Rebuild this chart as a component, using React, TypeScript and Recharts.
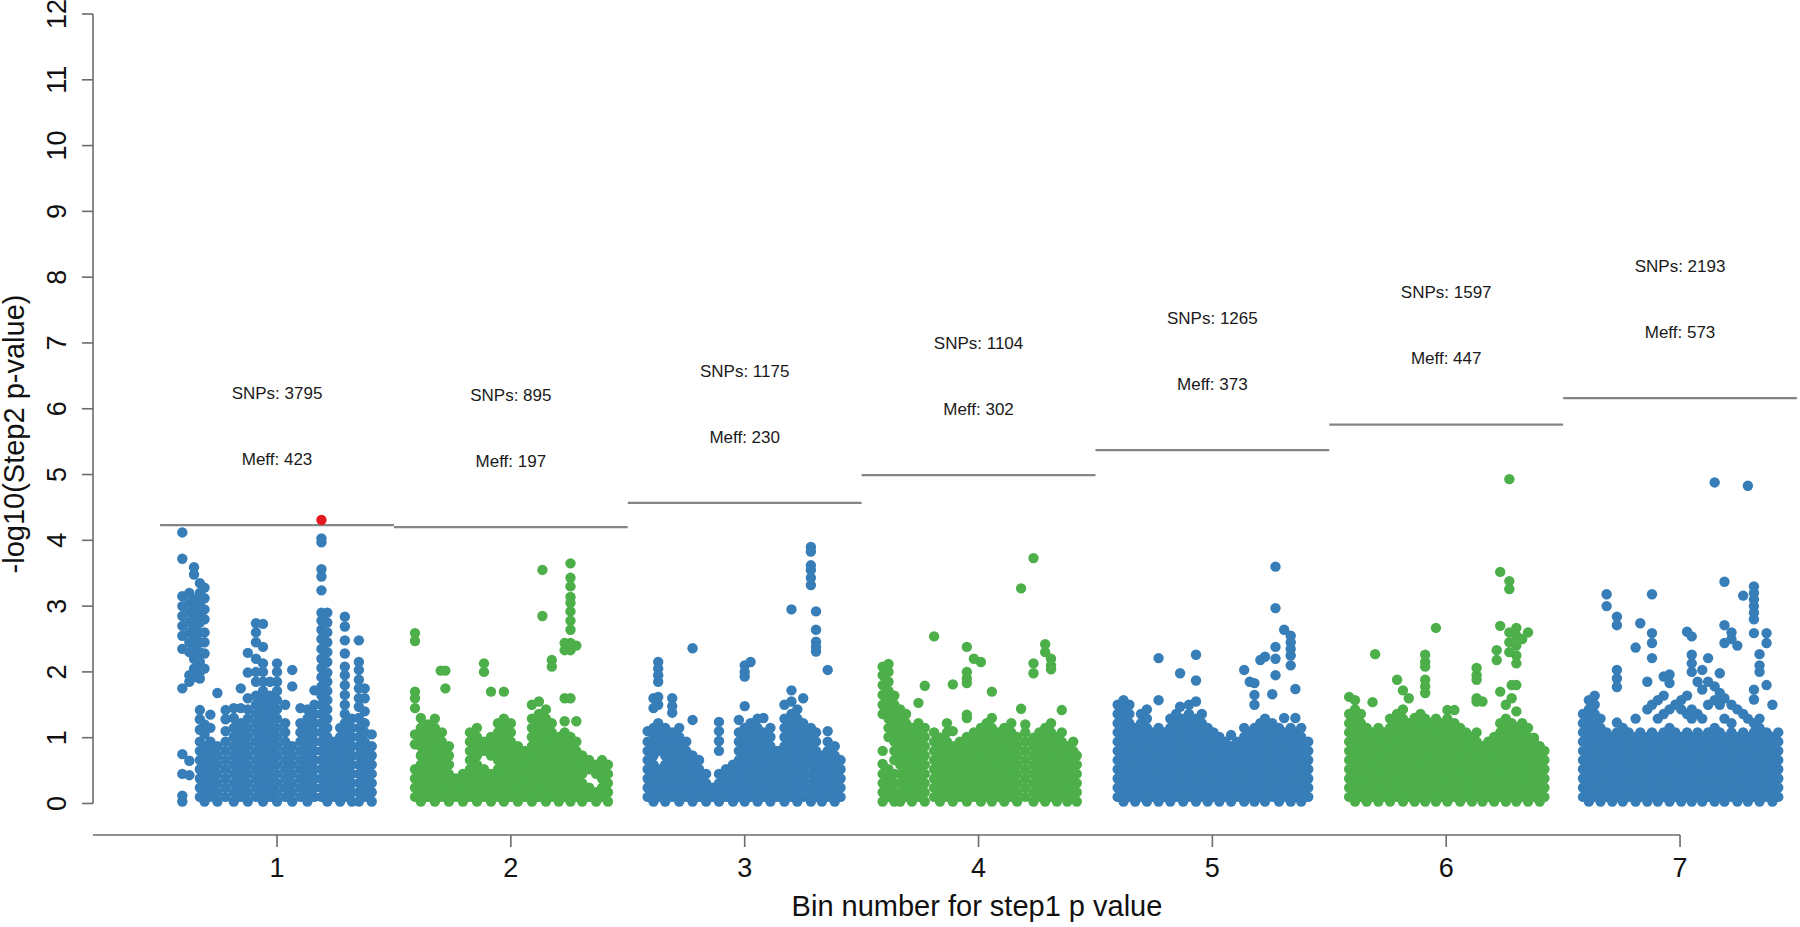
import { ScatterChart, Scatter, XAxis, YAxis, ReferenceLine, ReferenceDot } from 'recharts';

// each column: [bin position, -log10 p values stacked at that position]
type Column = [number, number[]];

const bins = [1, 2, 3, 4, 5, 6, 7];
const snps = [3795, 895, 1175, 1104, 1265, 1597, 2193];
const meff = [423, 197, 230, 302, 373, 447, 573];
const thresholds = [4.23, 4.2, 4.57, 4.99, 5.37, 5.76, 6.16];
const xTicks = [1, 2, 3, 4, 5, 6, 7];
const yTicks = [0, 1, 2, 3, 4, 5, 6, 7, 8, 9, 10, 11, 12];

const bin1: Column[] = [
  [0.595, [4.12, 3.72, 3.15, 3.0, 2.85, 2.7, 2.55, 2.35, 1.75, 0.75, 0.45, 0.12, 0.03]],
  [0.625, [3.2, 3.05, 2.9, 2.75, 2.6, 2.45, 2.3, 1.95, 1.85, 0.65, 0.43]],
  [0.645, [3.59, 3.48, 3.1, 2.95, 2.8, 2.65, 2.5, 2.35, 2.2, 2.05, 1.92]],
  [0.67, [3.35, 3.2, 3.05, 2.9, 2.75, 2.6, 2.45, 2.3, 2.15, 2.0, 1.9, 1.42, 1.28, 1.12, 0.94, 0.8, 0.66, 0.52, 0.38, 0.24, 0.1]],
  [0.69, [3.28, 3.12, 2.95, 2.8, 2.6, 2.45, 2.28, 2.05, 1.2, 1.05, 0.87, 0.73, 0.59, 0.45, 0.31, 0.17, 0.03]],
  [0.715, [1.35, 1.15, 0.94, 0.8, 0.66, 0.52, 0.38, 0.24, 0.1]],
  [0.745, [1.68, 0.87, 0.73, 0.59, 0.45, 0.31, 0.17, 0.03]],
  [0.78, [1.42, 1.28, 1.1, 0.94, 0.8, 0.66, 0.52, 0.38, 0.24, 0.1]],
  [0.815, [1.45, 1.3, 1.15, 1.01, 0.87, 0.73, 0.59, 0.45, 0.31, 0.17, 0.03]],
  [0.845, [1.75, 1.45, 1.22, 1.08, 0.94, 0.8, 0.66, 0.52, 0.38, 0.24, 0.1]],
  [0.875, [2.29, 1.99, 1.6, 1.43, 1.29, 1.15, 1.01, 0.87, 0.73, 0.59, 0.45, 0.31, 0.17, 0.03]],
  [0.91, [2.74, 2.6, 2.45, 2.2, 2.0, 1.85, 1.64, 1.5, 1.36, 1.22, 1.08, 0.94, 0.8, 0.66, 0.52, 0.38, 0.24, 0.1]],
  [0.94, [2.73, 2.38, 2.13, 2.0, 1.85, 1.71, 1.57, 1.43, 1.29, 1.15, 1.01, 0.87, 0.73, 0.59, 0.45, 0.31, 0.17, 0.03]],
  [0.97, [1.85, 1.64, 1.5, 1.36, 1.22, 1.08, 0.94, 0.8, 0.66, 0.52, 0.38, 0.24, 0.1]],
  [1.0, [2.13, 2.0, 1.85, 1.71, 1.57, 1.43, 1.29, 1.15, 1.01, 0.87, 0.73, 0.59, 0.45, 0.31, 0.17, 0.03]],
  [1.035, [1.5, 1.22, 1.08, 0.94, 0.8, 0.66, 0.52, 0.38, 0.24, 0.1]],
  [1.065, [2.03, 1.78, 0.87, 0.73, 0.59, 0.45, 0.31, 0.17, 0.03]],
  [1.1, [1.45, 1.22, 1.08, 0.94, 0.8, 0.66, 0.52, 0.38, 0.24, 0.1]],
  [1.13, [1.43, 1.29, 1.15, 1.01, 0.87, 0.73, 0.59, 0.45, 0.31, 0.17, 0.03]],
  [1.16, [1.72, 1.5, 1.36, 1.22, 1.08, 0.94, 0.8, 0.66, 0.52, 0.38, 0.24, 0.1]],
  [1.19, [4.03, 3.97, 3.56, 3.45, 3.24, 2.9, 2.78, 2.64, 2.5, 2.35, 2.2, 2.06, 1.92, 1.78, 1.64, 1.5, 1.36, 1.22, 1.08, 0.94, 0.8, 0.66, 0.52, 0.38, 0.24, 0.1]],
  [1.215, [2.9, 2.75, 2.6, 2.45, 2.3, 2.15, 1.99, 1.85, 1.71, 1.57, 1.43, 1.29, 1.15, 1.01, 0.87, 0.73, 0.59, 0.45, 0.31, 0.17, 0.03]],
  [1.245, [0.94, 0.8, 0.66, 0.52, 0.38, 0.24, 0.1]],
  [1.27, [1.15, 1.01, 0.87, 0.73, 0.59, 0.45, 0.31, 0.17, 0.03]],
  [1.29, [2.84, 2.69, 2.48, 2.28, 2.08, 1.95, 1.8, 1.65, 1.5, 1.36, 1.22, 1.08, 0.94, 0.8, 0.66, 0.52, 0.38, 0.24, 0.1]],
  [1.32, [1.29, 1.15, 1.01, 0.87, 0.73, 0.59, 0.45, 0.31, 0.17, 0.03]],
  [1.35, [2.48, 2.15, 2.03, 1.88, 1.75, 1.6, 1.47, 1.3, 1.15, 1.01, 0.87, 0.73, 0.59, 0.45, 0.31, 0.17, 0.03]],
  [1.375, [1.75, 1.6, 1.4, 1.22, 1.08, 0.94, 0.8, 0.66, 0.52, 0.38, 0.24, 0.1]],
  [1.405, [1.05, 0.87, 0.73, 0.59, 0.45, 0.31, 0.17, 0.03]],
];

const bin2: Column[] = [
  [1.59, [2.59, 2.47, 1.7, 1.6, 1.45, 1.05, 0.9, 0.52, 0.38, 0.24, 0.1]],
  [1.615, [1.3, 1.15, 1.0, 0.87, 0.73, 0.59, 0.45, 0.31, 0.17, 0.03]],
  [1.645, [1.2, 1.08, 0.94, 0.8, 0.66, 0.52, 0.38, 0.24, 0.1]],
  [1.675, [1.29, 1.15, 1.01, 0.87, 0.73, 0.59, 0.45, 0.31, 0.17, 0.03]],
  [1.7, [2.02]],
  [1.72, [2.02, 1.75]],
  [1.705, [1.08, 0.94, 0.8, 0.66, 0.52, 0.38, 0.24, 0.1]],
  [1.735, [0.87, 0.73, 0.59, 0.45, 0.31, 0.17, 0.03]],
  [1.765, [0.38, 0.24, 0.1]],
  [1.795, [0.45, 0.31, 0.17, 0.03]],
  [1.825, [1.08, 0.94, 0.8, 0.66, 0.52, 0.38, 0.24, 0.1]],
  [1.855, [1.15, 1.01, 0.87, 0.73, 0.59, 0.45, 0.31, 0.17, 0.03]],
  [1.885, [2.13, 2.0, 0.94, 0.8, 0.52, 0.38, 0.24, 0.1]],
  [1.915, [1.7, 1.01, 0.87, 0.73, 0.45, 0.31, 0.17, 0.03]],
  [1.945, [1.22, 1.08, 0.94, 0.8, 0.66, 0.52, 0.38, 0.24, 0.1]],
  [1.97, [1.7, 1.29, 1.15, 1.01, 0.87, 0.73, 0.59, 0.45, 0.31, 0.17, 0.03]],
  [2.0, [1.22, 1.08, 0.94, 0.8, 0.66, 0.52, 0.38, 0.24, 0.1]],
  [2.03, [0.87, 0.73, 0.59, 0.45, 0.31, 0.17, 0.03]],
  [2.06, [0.8, 0.66, 0.52, 0.38, 0.24, 0.1]],
  [2.09, [1.5, 1.29, 1.15, 1.01, 0.87, 0.73, 0.59, 0.45, 0.31, 0.17, 0.03]],
  [2.12, [1.55, 1.36, 1.22, 1.08, 0.94, 0.8, 0.66, 0.52, 0.38, 0.24, 0.1]],
  [2.135, [3.55, 2.85]],
  [2.15, [1.43, 1.29, 1.15, 1.01, 0.87, 0.73, 0.59, 0.45, 0.31, 0.17, 0.03]],
  [2.175, [2.18, 2.08, 1.22, 1.08, 0.94, 0.8, 0.66, 0.52, 0.38, 0.24, 0.1]],
  [2.205, [1.01, 0.87, 0.73, 0.59, 0.45, 0.31, 0.17, 0.03]],
  [2.23, [2.44, 2.33, 1.6, 1.25, 1.08, 0.94, 0.8, 0.66, 0.52, 0.38, 0.24, 0.1]],
  [2.255, [3.65, 3.43, 3.3, 3.14, 3.05, 2.92, 2.78, 2.64, 2.44, 2.33, 1.6, 1.01, 0.87, 0.73, 0.59, 0.45, 0.31, 0.17, 0.03]],
  [2.28, [2.4, 1.25, 0.94, 0.8, 0.66, 0.52, 0.38, 0.24, 0.1]],
  [2.305, [0.73, 0.59, 0.45, 0.31, 0.17, 0.03]],
  [2.335, [0.66, 0.52, 0.24, 0.1]],
  [2.365, [0.59, 0.45, 0.17, 0.03]],
  [2.39, [0.66, 0.52, 0.38, 0.24, 0.1]],
  [2.415, [0.59, 0.45, 0.31, 0.17, 0.03]],
];

const bin3: Column[] = [
  [2.585, [1.1, 0.94, 0.8, 0.66, 0.52, 0.38, 0.24, 0.1]],
  [2.61, [1.6, 1.45, 1.15, 1.01, 0.87, 0.73, 0.59, 0.45, 0.31, 0.17, 0.03]],
  [2.63, [2.15, 2.05, 1.95, 1.85, 1.62, 1.5, 1.22, 1.08, 0.94, 0.8, 0.52, 0.38, 0.24, 0.1]],
  [2.66, [1.15, 1.01, 0.87, 0.73, 0.59, 0.45, 0.31, 0.17, 0.03]],
  [2.69, [1.6, 1.48, 1.38, 1.08, 0.94, 0.8, 0.66, 0.52, 0.38, 0.24, 0.1]],
  [2.72, [1.15, 1.01, 0.87, 0.73, 0.59, 0.45, 0.31, 0.17, 0.03]],
  [2.75, [0.94, 0.8, 0.66, 0.52, 0.38, 0.24, 0.1]],
  [2.777, [2.36, 1.27, 0.73, 0.59, 0.45, 0.31, 0.17, 0.03]],
  [2.805, [0.66, 0.52, 0.38, 0.24, 0.1]],
  [2.835, [0.45, 0.31, 0.17, 0.03]],
  [2.865, [0.24, 0.1]],
  [2.89, [1.24, 1.1, 0.95, 0.8, 0.45, 0.31, 0.17, 0.03]],
  [2.92, [0.52, 0.38, 0.24, 0.1]],
  [2.95, [0.59, 0.45, 0.31, 0.17, 0.03]],
  [2.975, [1.27, 1.08, 0.94, 0.8, 0.66, 0.52, 0.38, 0.24, 0.1]],
  [3.0, [2.1, 2.0, 1.93, 1.48, 1.15, 1.01, 0.87, 0.73, 0.59, 0.45, 0.31, 0.17, 0.03]],
  [3.025, [2.15, 1.22, 1.08, 0.94, 0.8, 0.66, 0.52, 0.38, 0.24, 0.1]],
  [3.055, [1.29, 1.15, 1.01, 0.87, 0.73, 0.59, 0.45, 0.31, 0.17, 0.03]],
  [3.08, [1.3, 1.08, 0.94, 0.8, 0.66, 0.52, 0.38, 0.24, 0.1]],
  [3.11, [1.15, 1.01, 0.87, 0.73, 0.59, 0.45, 0.31, 0.17, 0.03]],
  [3.14, [0.8, 0.66, 0.52, 0.38, 0.24, 0.1]],
  [3.17, [1.5, 1.29, 1.15, 1.01, 0.87, 0.73, 0.59, 0.45, 0.31, 0.17, 0.03]],
  [3.2, [2.95, 1.72, 1.55, 1.36, 1.22, 1.08, 0.94, 0.8, 0.66, 0.52, 0.38, 0.24, 0.1]],
  [3.225, [1.43, 1.29, 1.15, 1.01, 0.87, 0.73, 0.59, 0.45, 0.31, 0.17, 0.03]],
  [3.25, [1.6, 1.22, 1.08, 0.94, 0.8, 0.66, 0.52, 0.38, 0.24, 0.1]],
  [3.283, [3.9, 3.83, 3.62, 3.55, 3.43, 3.32, 1.15, 1.01, 0.87, 0.73, 0.59, 0.45, 0.31, 0.17, 0.03]],
  [3.305, [2.92, 2.64, 2.46, 2.38, 2.31, 1.08, 0.94, 0.8, 0.66, 0.52, 0.38, 0.24, 0.1]],
  [3.33, [0.73, 0.59, 0.45, 0.31, 0.17, 0.03]],
  [3.355, [2.03, 1.1, 0.94, 0.8, 0.66, 0.52, 0.38, 0.24, 0.1]],
  [3.385, [0.87, 0.73, 0.59, 0.45, 0.31, 0.17, 0.03]],
  [3.41, [0.66, 0.52, 0.38, 0.24, 0.1]],
];

const bin4: Column[] = [
  [3.59, [2.08, 1.95, 1.8, 1.65, 1.5, 1.36, 0.8, 0.6, 0.45, 0.31, 0.17, 0.03]],
  [3.615, [2.12, 2.0, 1.85, 1.71, 1.57, 1.43, 1.29, 1.15, 1.01, 0.52, 0.38, 0.24, 0.1]],
  [3.64, [1.64, 1.5, 1.36, 1.22, 1.08, 0.94, 0.8, 0.66, 0.45, 0.31, 0.17, 0.03]],
  [3.665, [1.43, 1.29, 1.15, 1.01, 0.87, 0.73, 0.59, 0.45, 0.31, 0.17, 0.03]],
  [3.69, [1.36, 1.22, 1.08, 0.94, 0.8, 0.66, 0.52, 0.38, 0.24, 0.1]],
  [3.715, [1.15, 1.01, 0.87, 0.73, 0.59, 0.45, 0.31, 0.17, 0.03]],
  [3.743, [1.53, 1.22, 1.08, 0.94, 0.8, 0.66, 0.52, 0.38, 0.24, 0.1]],
  [3.77, [1.79, 1.15, 1.01, 0.87, 0.73, 0.59, 0.45, 0.31, 0.17, 0.03]],
  [3.81, [2.54, 1.08, 0.94, 0.8, 0.66, 0.52, 0.38, 0.24, 0.1]],
  [3.835, [1.0, 0.87, 0.73, 0.59, 0.45, 0.31, 0.17, 0.03]],
  [3.865, [1.22, 1.08, 0.94, 0.8, 0.66, 0.52, 0.38, 0.24, 0.1]],
  [3.89, [1.81, 1.1, 0.87, 0.73, 0.59, 0.45, 0.31, 0.17, 0.03]],
  [3.92, [0.94, 0.8, 0.66, 0.52, 0.38, 0.24, 0.1]],
  [3.95, [2.38, 2.0, 1.9, 1.83, 1.35, 1.3, 1.01, 0.87, 0.73, 0.59, 0.45, 0.31, 0.17, 0.03]],
  [3.98, [2.2, 1.08, 0.94, 0.8, 0.66, 0.52, 0.38, 0.24, 0.1]],
  [4.01, [2.15, 1.15, 1.01, 0.87, 0.73, 0.59, 0.45, 0.31, 0.17, 0.03]],
  [4.035, [1.22, 1.08, 0.94, 0.8, 0.66, 0.52, 0.38, 0.24, 0.1]],
  [4.057, [1.7, 1.3, 1.15, 1.01, 0.87, 0.73, 0.59, 0.45, 0.31, 0.17, 0.03]],
  [4.085, [1.08, 0.94, 0.8, 0.66, 0.52, 0.38, 0.24, 0.1]],
  [4.11, [1.15, 1.01, 0.87, 0.73, 0.59, 0.45, 0.31, 0.17, 0.03]],
  [4.14, [1.22, 1.08, 0.94, 0.8, 0.66, 0.52, 0.38, 0.24, 0.1]],
  [4.165, [1.01, 0.87, 0.73, 0.59, 0.45, 0.31, 0.17, 0.03]],
  [4.182, [3.27, 1.44]],
  [4.2, [1.2, 1.08, 0.94, 0.8, 0.66, 0.52, 0.38, 0.24, 0.1]],
  [4.235, [3.73, 2.13, 1.98, 1.0, 0.87, 0.73, 0.59, 0.45, 0.31, 0.17, 0.03]],
  [4.26, [1.08, 0.94, 0.8, 0.66, 0.52, 0.38, 0.24, 0.1]],
  [4.285, [2.42, 2.3, 1.15, 1.01, 0.87, 0.73, 0.59, 0.45, 0.31, 0.17, 0.03]],
  [4.31, [2.2, 2.1, 2.04, 1.22, 1.08, 0.94, 0.8, 0.66, 0.52, 0.38, 0.24, 0.1]],
  [4.335, [1.01, 0.87, 0.73, 0.59, 0.45, 0.31, 0.17, 0.03]],
  [4.356, [1.42, 1.08, 0.94, 0.8, 0.66, 0.52, 0.38, 0.24, 0.1]],
  [4.38, [0.87, 0.73, 0.59, 0.45, 0.31, 0.17, 0.03]],
  [4.405, [0.94, 0.8, 0.66, 0.52, 0.38, 0.24, 0.1]],
  [4.42, [0.73, 0.59, 0.45, 0.31, 0.17, 0.03]],
];

const bin5: Column[] = [
  [4.595, [1.5, 1.36, 1.22, 1.08, 0.94, 0.8, 0.66, 0.52, 0.38, 0.24, 0.1]],
  [4.62, [1.57, 1.43, 1.29, 1.15, 1.01, 0.87, 0.73, 0.59, 0.45, 0.31, 0.17, 0.03]],
  [4.645, [1.5, 1.36, 1.22, 1.08, 0.94, 0.8, 0.66, 0.52, 0.38, 0.24, 0.1]],
  [4.67, [1.15, 1.01, 0.87, 0.73, 0.59, 0.45, 0.31, 0.17, 0.03]],
  [4.695, [1.36, 1.22, 1.08, 0.94, 0.8, 0.66, 0.52, 0.38, 0.24, 0.1]],
  [4.72, [1.43, 1.29, 1.15, 1.01, 0.87, 0.73, 0.59, 0.45, 0.31, 0.17, 0.03]],
  [4.745, [1.08, 0.94, 0.8, 0.66, 0.52, 0.38, 0.24, 0.1]],
  [4.77, [2.21, 1.57, 1.15, 1.01, 0.87, 0.73, 0.59, 0.45, 0.31, 0.17, 0.03]],
  [4.795, [1.08, 0.94, 0.8, 0.66, 0.52, 0.38, 0.24, 0.1]],
  [4.82, [1.29, 1.15, 1.01, 0.87, 0.73, 0.59, 0.45, 0.31, 0.17, 0.03]],
  [4.845, [1.36, 1.22, 1.08, 0.94, 0.8, 0.66, 0.52, 0.38, 0.24, 0.1]],
  [4.862, [1.98, 1.47]],
  [4.875, [1.29, 1.15, 1.01, 0.87, 0.73, 0.59, 0.45, 0.31, 0.17, 0.03]],
  [4.9, [1.5, 1.36, 1.22, 1.08, 0.94, 0.8, 0.66, 0.52, 0.38, 0.24, 0.1]],
  [4.93, [2.26, 1.87, 1.55, 1.29, 1.15, 1.01, 0.87, 0.73, 0.59, 0.45, 0.31, 0.17, 0.03]],
  [4.955, [1.36, 1.22, 1.08, 0.94, 0.8, 0.66, 0.52, 0.38, 0.24, 0.1]],
  [4.98, [1.15, 1.01, 0.87, 0.73, 0.59, 0.45, 0.31, 0.17, 0.03]],
  [5.005, [1.08, 0.94, 0.8, 0.66, 0.52, 0.38, 0.24, 0.1]],
  [5.03, [1.01, 0.87, 0.73, 0.59, 0.45, 0.31, 0.17, 0.03]],
  [5.055, [0.94, 0.8, 0.66, 0.52, 0.38, 0.24, 0.1]],
  [5.08, [1.04, 0.87, 0.73, 0.59, 0.45, 0.31, 0.17, 0.03]],
  [5.105, [0.94, 0.8, 0.66, 0.52, 0.38, 0.24, 0.1]],
  [5.136, [2.03, 1.15, 1.01, 0.87, 0.73, 0.59, 0.45, 0.31, 0.17, 0.03]],
  [5.16, [1.85, 1.08, 0.94, 0.8, 0.66, 0.52, 0.38, 0.24, 0.1]],
  [5.18, [1.83, 1.65, 1.5, 1.15, 1.01, 0.87, 0.73, 0.59, 0.45, 0.31, 0.17, 0.03]],
  [5.205, [2.18, 1.22, 1.08, 0.94, 0.8, 0.66, 0.52, 0.38, 0.24, 0.1]],
  [5.225, [2.23, 1.29, 1.15, 1.01, 0.87, 0.73, 0.59, 0.45, 0.31, 0.17, 0.03]],
  [5.256, [1.66, 1.22, 1.08, 0.94, 0.8, 0.66, 0.52, 0.38, 0.24, 0.1]],
  [5.27, [3.6, 2.97, 2.38, 2.2, 1.95]],
  [5.285, [1.15, 1.01, 0.87, 0.73, 0.59, 0.45, 0.31, 0.17, 0.03]],
  [5.307, [2.64, 1.3, 1.08, 0.94, 0.8, 0.66, 0.52, 0.38, 0.24, 0.1]],
  [5.335, [2.55, 2.45, 2.35, 2.25, 2.1, 1.15, 1.01, 0.87, 0.73, 0.59, 0.45, 0.31, 0.17, 0.03]],
  [5.355, [1.74, 1.3, 1.08, 0.94, 0.8, 0.66, 0.52, 0.38, 0.24, 0.1]],
  [5.38, [1.15, 1.01, 0.87, 0.73, 0.59, 0.45, 0.31, 0.17, 0.03]],
  [5.41, [0.94, 0.8, 0.66, 0.52, 0.38, 0.24, 0.1]],
];

const bin6: Column[] = [
  [5.585, [1.62, 1.36, 1.22, 1.08, 0.94, 0.8, 0.66, 0.52, 0.38, 0.24, 0.1]],
  [5.61, [1.57, 1.43, 1.29, 1.15, 1.01, 0.87, 0.73, 0.59, 0.45, 0.31, 0.17, 0.03]],
  [5.635, [1.36, 1.22, 1.08, 0.94, 0.8, 0.66, 0.52, 0.38, 0.24, 0.1]],
  [5.66, [1.15, 1.01, 0.87, 0.73, 0.59, 0.45, 0.31, 0.17, 0.03]],
  [5.685, [1.54, 1.08, 0.94, 0.8, 0.66, 0.52, 0.38, 0.24, 0.1]],
  [5.696, [2.27]],
  [5.71, [1.15, 1.01, 0.87, 0.73, 0.59, 0.45, 0.31, 0.17, 0.03]],
  [5.735, [1.08, 0.94, 0.8, 0.66, 0.52, 0.38, 0.24, 0.1]],
  [5.76, [1.29, 1.15, 1.01, 0.87, 0.73, 0.59, 0.45, 0.31, 0.17, 0.03]],
  [5.79, [1.88, 1.36, 1.22, 1.08, 0.94, 0.8, 0.66, 0.52, 0.38, 0.24, 0.1]],
  [5.815, [1.72, 1.43, 1.29, 1.15, 1.01, 0.87, 0.73, 0.59, 0.45, 0.31, 0.17, 0.03]],
  [5.84, [1.6, 1.22, 1.08, 0.94, 0.8, 0.66, 0.52, 0.38, 0.24, 0.1]],
  [5.865, [1.3, 1.15, 1.01, 0.87, 0.73, 0.59, 0.45, 0.31, 0.17, 0.03]],
  [5.89, [1.36, 1.22, 1.08, 0.94, 0.8, 0.66, 0.52, 0.38, 0.24, 0.1]],
  [5.91, [2.26, 2.15, 2.08, 1.88, 1.78, 1.68, 1.29, 1.15, 1.01, 0.87, 0.73, 0.59, 0.45, 0.31, 0.17, 0.03]],
  [5.935, [1.22, 1.08, 0.94, 0.8, 0.66, 0.52, 0.38, 0.24, 0.1]],
  [5.956, [2.67, 1.29, 1.15, 1.01, 0.87, 0.73, 0.59, 0.45, 0.31, 0.17, 0.03]],
  [5.98, [1.22, 1.08, 0.94, 0.8, 0.66, 0.52, 0.38, 0.24, 0.1]],
  [6.005, [1.42, 1.29, 1.15, 1.01, 0.87, 0.73, 0.59, 0.45, 0.31, 0.17, 0.03]],
  [6.035, [1.42, 1.22, 1.08, 0.94, 0.8, 0.66, 0.52, 0.38, 0.24, 0.1]],
  [6.06, [1.15, 1.01, 0.87, 0.73, 0.59, 0.45, 0.31, 0.17, 0.03]],
  [6.085, [1.08, 0.94, 0.8, 0.66, 0.52, 0.38, 0.24, 0.1]],
  [6.11, [1.01, 0.87, 0.73, 0.59, 0.45, 0.31, 0.17, 0.03]],
  [6.13, [2.06, 1.95, 1.88, 1.6, 1.55, 1.08, 0.94, 0.8, 0.66, 0.52, 0.38, 0.24, 0.1]],
  [6.155, [1.55, 0.87, 0.73, 0.59, 0.45, 0.31, 0.17, 0.03]],
  [6.18, [0.94, 0.8, 0.66, 0.52, 0.38, 0.24, 0.1]],
  [6.205, [1.01, 0.87, 0.73, 0.59, 0.45, 0.31, 0.17, 0.03]],
  [6.216, [2.33, 2.18]],
  [6.231, [3.52, 2.7, 1.7, 1.22, 1.08, 0.94, 0.8, 0.66, 0.52, 0.38, 0.24, 0.1]],
  [6.255, [1.5, 1.29, 1.15, 1.01, 0.87, 0.73, 0.59, 0.45, 0.31, 0.17, 0.03]],
  [6.27, [4.93, 3.38, 3.26, 2.6, 2.45, 2.3]],
  [6.28, [1.8, 1.6, 1.22, 1.08, 0.94, 0.8, 0.66, 0.52, 0.38, 0.24, 0.1]],
  [6.3, [2.67, 2.55, 2.4, 2.25, 2.13, 1.8, 1.4, 1.15, 1.01, 0.87, 0.73, 0.59, 0.45, 0.31, 0.17, 0.03]],
  [6.325, [2.5, 1.22, 1.08, 0.94, 0.8, 0.66, 0.52, 0.38, 0.24, 0.1]],
  [6.35, [2.6, 1.15, 1.01, 0.87, 0.73, 0.59, 0.45, 0.31, 0.17, 0.03]],
  [6.375, [1.0, 0.94, 0.8, 0.66, 0.52, 0.38, 0.24, 0.1]],
  [6.4, [0.87, 0.73, 0.59, 0.45, 0.31, 0.17, 0.03]],
  [6.42, [0.8, 0.66, 0.52, 0.38, 0.24, 0.1]],
];

const bin7: Column[] = [
  [6.585, [1.36, 1.22, 1.08, 0.94, 0.8, 0.66, 0.52, 0.38, 0.24, 0.1]],
  [6.61, [1.57, 1.43, 1.29, 1.15, 1.01, 0.87, 0.73, 0.59, 0.45, 0.31, 0.17, 0.03]],
  [6.635, [1.64, 1.5, 1.36, 1.22, 1.08, 0.94, 0.8, 0.66, 0.52, 0.38, 0.24, 0.1]],
  [6.66, [1.29, 1.15, 1.01, 0.87, 0.73, 0.59, 0.45, 0.31, 0.17, 0.03]],
  [6.686, [3.18, 3.0, 1.08, 0.94, 0.8, 0.66, 0.52, 0.38, 0.24, 0.1]],
  [6.71, [1.01, 0.87, 0.73, 0.59, 0.45, 0.31, 0.17, 0.03]],
  [6.73, [2.84, 2.71, 2.03, 1.9, 1.77, 1.23, 1.08, 0.94, 0.8, 0.66, 0.52, 0.38, 0.24, 0.1]],
  [6.755, [1.15, 1.01, 0.87, 0.73, 0.59, 0.45, 0.31, 0.17, 0.03]],
  [6.78, [1.08, 0.94, 0.8, 0.66, 0.52, 0.38, 0.24, 0.1]],
  [6.81, [2.37, 1.29, 1.01, 0.87, 0.73, 0.59, 0.45, 0.31, 0.17, 0.03]],
  [6.83, [2.74, 1.08, 0.94, 0.8, 0.66, 0.52, 0.38, 0.24, 0.1]],
  [6.86, [1.85, 1.43, 1.01, 0.87, 0.73, 0.59, 0.45, 0.31, 0.17, 0.03]],
  [6.88, [3.18, 2.59, 2.44, 2.21, 1.5, 1.08, 0.94, 0.8, 0.66, 0.52, 0.38, 0.24, 0.1]],
  [6.905, [1.57, 1.29, 1.01, 0.87, 0.73, 0.59, 0.45, 0.31, 0.17, 0.03]],
  [6.93, [1.93, 1.64, 1.36, 1.08, 0.94, 0.8, 0.66, 0.52, 0.38, 0.24, 0.1]],
  [6.955, [1.96, 1.83, 1.43, 1.15, 1.01, 0.87, 0.73, 0.59, 0.45, 0.31, 0.17, 0.03]],
  [6.98, [1.5, 1.08, 0.94, 0.8, 0.66, 0.52, 0.38, 0.24, 0.1]],
  [7.005, [1.57, 1.43, 1.01, 0.87, 0.73, 0.59, 0.45, 0.31, 0.17, 0.03]],
  [7.03, [2.61, 1.64, 1.36, 1.08, 0.94, 0.8, 0.66, 0.52, 0.38, 0.24, 0.1]],
  [7.05, [2.54, 2.26, 2.13, 2.0, 1.43, 1.29, 1.01, 0.87, 0.73, 0.59, 0.45, 0.31, 0.17, 0.03]],
  [7.075, [1.85, 1.36, 1.08, 0.94, 0.8, 0.66, 0.52, 0.38, 0.24, 0.1]],
  [7.095, [2.03, 1.73, 1.29, 1.01, 0.87, 0.73, 0.59, 0.45, 0.31, 0.17, 0.03]],
  [7.12, [2.21, 1.85, 1.5, 1.08, 0.94, 0.8, 0.66, 0.52, 0.38, 0.24, 0.1]],
  [7.148, [4.88, 1.78, 1.57, 1.15, 1.01, 0.87, 0.73, 0.59, 0.45, 0.31, 0.17, 0.03]],
  [7.17, [1.98, 1.68, 1.5, 1.08, 0.94, 0.8, 0.66, 0.52, 0.38, 0.24, 0.1]],
  [7.19, [3.37, 2.71, 2.44, 1.6, 1.29, 1.01, 0.87, 0.73, 0.59, 0.45, 0.31, 0.17, 0.03]],
  [7.22, [2.6, 2.5, 1.5, 1.22, 1.08, 0.94, 0.8, 0.66, 0.52, 0.38, 0.24, 0.1]],
  [7.245, [2.4, 1.43, 1.01, 0.87, 0.73, 0.59, 0.45, 0.31, 0.17, 0.03]],
  [7.27, [3.16, 1.36, 1.08, 0.94, 0.8, 0.66, 0.52, 0.38, 0.24, 0.1]],
  [7.29, [4.83, 1.29, 1.01, 0.87, 0.73, 0.59, 0.45, 0.31, 0.17, 0.03]],
  [7.316, [3.3, 3.2, 3.1, 3.0, 2.9, 2.8, 2.59, 1.73, 1.58, 1.22, 1.08, 0.94, 0.8, 0.66, 0.52, 0.38, 0.24, 0.1]],
  [7.34, [2.27, 2.1, 2.0, 1.29, 1.15, 1.01, 0.87, 0.73, 0.59, 0.45, 0.31, 0.17, 0.03]],
  [7.37, [2.59, 2.44, 1.8, 1.08, 0.94, 0.8, 0.66, 0.52, 0.38, 0.24, 0.1]],
  [7.395, [1.5, 1.01, 0.87, 0.73, 0.59, 0.45, 0.31, 0.17, 0.03]],
  [7.42, [1.08, 0.94, 0.8, 0.66, 0.52, 0.38, 0.24, 0.1]],
];

// the one SNP above its bin threshold
const significant: Column[] = [[1.19, [4.31]]];

const binColumns = [bin1, bin2, bin3, bin4, bin5, bin6, bin7];

const BLUE = '#377EB8';
const GREEN = '#4DAF4A';
const RED = '#E41A1C';
const FONT = '"Liberation Sans", Arial, Helvetica, sans-serif';

const toPoints = (cols: Column[]) =>
  cols.flatMap(([x, ys]) => ys.map((y) => ({ x, y })));

const dot = (color: string) => (props: any) =>
  <circle cx={props.cx} cy={props.cy} r={5.2} fill={color} />;

const YTick = (props: any) => (
  <text
    x={57}
    y={props.y}
    transform={`rotate(-90 57 ${props.y})`}
    textAnchor="middle"
    dominantBaseline="central"
    fontSize={27}
    fontFamily={FONT}
    fill="#111"
  >
    {props.payload.value}
  </text>
);

const XTick = (props: any) => (
  <text
    x={props.x}
    y={868}
    textAnchor="middle"
    dominantBaseline="central"
    fontSize={27}
    fontFamily={FONT}
    fill="#111"
  >
    {props.payload.value}
  </text>
);

const annotation = (text: string) => (props: any) => (
  <text
    x={props.cx}
    y={props.cy}
    textAnchor="middle"
    dominantBaseline="central"
    fontSize={17}
    fontFamily={FONT}
    fill="#1a1a1a"
  >
    {text}
  </text>
);

export default function App() {
  const axisColor = '#6b6b6b';
  return (
    <div style={{ position: 'absolute', left: 0, top: 0, width: 1800, height: 927, background: '#fff' }}>
      <ScatterChart width={1800} height={927} margin={{ top: 14, right: 0, bottom: 0, left: 0 }}>
        <XAxis
          type="number"
          dataKey="x"
          domain={[0.213, 7.513]}
          ticks={xTicks}
          allowDataOverflow
          axisLine={false}
          tickSize={12}
          tickLine={{ stroke: axisColor, strokeWidth: 1.6 }}
          tick={<XTick />}
          height={92}
        />
        <YAxis
          type="number"
          dataKey="y"
          domain={[-0.479, 12]}
          ticks={yTicks}
          allowDataOverflow
          axisLine={false}
          tickSize={11}
          tickLine={{ stroke: axisColor, strokeWidth: 1.6 }}
          tick={<YTick />}
          width={93}
        />
        <ReferenceLine
          segment={[{ x: 0.213, y: -0.479 }, { x: 7, y: -0.479 }]}
          stroke={axisColor}
          strokeWidth={1.6}
          ifOverflow="visible"
        />
        <ReferenceLine
          segment={[{ x: 0.213, y: 0 }, { x: 0.213, y: 12 }]}
          stroke={axisColor}
          strokeWidth={1.6}
          ifOverflow="visible"
        />
        {bins.map((b, i) => (
          <ReferenceLine
            key={`thr-${b}`}
            segment={[{ x: b - 0.5, y: thresholds[i] }, { x: b + 0.5, y: thresholds[i] }]}
            stroke="#858585"
            strokeWidth={2.2}
            ifOverflow="visible"
          />
        ))}
        {bins.map((b, i) => (
          <ReferenceDot
            key={`snp-${b}`}
            x={b}
            y={thresholds[i] + 2}
            r={1}
            ifOverflow="visible"
            shape={annotation(`SNPs: ${snps[i]}`)}
          />
        ))}
        {bins.map((b, i) => (
          <ReferenceDot
            key={`meff-${b}`}
            x={b}
            y={thresholds[i] + 1}
            r={1}
            ifOverflow="visible"
            shape={annotation(`Meff: ${meff[i]}`)}
          />
        ))}
        {binColumns.map((cols, i) => (
          <Scatter
            key={`bin-${i + 1}`}
            data={toPoints(cols)}
            shape={dot(i % 2 === 0 ? BLUE : GREEN)}
            isAnimationActive={false}
          />
        ))}
        <Scatter data={toPoints(significant)} shape={dot(RED)} isAnimationActive={false} />
      </ScatterChart>
      <div
        style={{
          position: 'absolute',
          left: 977,
          top: 906,
          transform: 'translate(-50%, -50%)',
          fontFamily: FONT,
          fontSize: 29,
          color: '#111',
          whiteSpace: 'nowrap',
        }}
      >
        Bin number for step1 p value
      </div>
      <div
        style={{
          position: 'absolute',
          left: 14,
          top: 434,
          transform: 'translate(-50%, -50%) rotate(-90deg)',
          fontFamily: FONT,
          fontSize: 29,
          color: '#111',
          whiteSpace: 'nowrap',
        }}
      >
        -log10(Step2 p-value)
      </div>
    </div>
  );
}
